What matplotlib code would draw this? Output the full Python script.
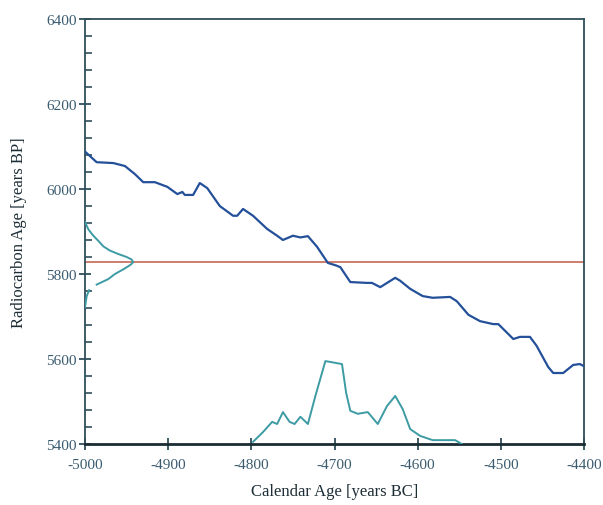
import matplotlib
matplotlib.use("Agg")
import matplotlib.pyplot as plt
import numpy as np

plt.rcParams["axes.unicode_minus"] = False

# Calibration curve (calendar age BC, radiocarbon age BP)
cal_x = [-5000, -4986, -4966, -4952, -4940, -4930, -4916, -4901, -4889, -4883,
         -4880, -4870, -4862, -4853, -4838, -4822, -4817, -4810, -4798, -4781,
         -4769, -4762, -4750, -4741, -4732, -4721, -4708, -4698, -4693, -4681, -4661,
         -4655, -4645, -4627, -4621, -4609, -4594, -4582, -4561, -4553, -4539,
         -4525, -4509, -4503, -4485, -4477, -4465, -4457, -4443, -4437, -4425,
         -4413, -4405, -4401]
cal_y = [6088, 6063, 6061, 6054, 6035, 6016, 6016, 6005, 5988, 5993,
         5986, 5986, 6014, 6002, 5960, 5937, 5937, 5953, 5937, 5906,
         5890, 5880, 5890, 5886, 5889, 5864, 5826, 5820, 5816, 5781, 5779,
         5779, 5769, 5791, 5784, 5765, 5748, 5744, 5746, 5736, 5704,
         5689, 5682, 5682, 5647, 5652, 5652, 5631, 5581, 5567, 5567,
         5586, 5588, 5584]

# Measured radiocarbon age
c14_age = 5828

# Radiocarbon probability distribution (age BP, height in years)
c14_y = [5922, 5905, 5890, 5878, 5865, 5855, 5847, 5840, 5834, 5828, 5822, 5812, 5800, 5788, 5775]
c14_p = [0, 4, 10, 16, 22, 30, 40, 50, 56, 58, 55, 47, 36, 28, 14]
c14_y2 = [5762, 5748, 5735, 5722]
c14_p2 = [5, 2, 1, 0]

# Calendar probability distribution (calendar age BC, height in BP units above 5400)
prob_x = [-4798, -4786, -4775, -4769, -4762, -4754, -4748, -4741, -4732, -4723,
          -4711, -4705, -4691, -4686, -4681, -4672, -4660, -4648, -4637, -4627,
          -4618, -4609, -4597, -4582, -4565, -4555, -4547]
prob_y = [5, 28, 52, 47, 75, 52, 47, 64, 47, 113,
          195, 193, 188, 120, 78, 71, 75, 47, 89, 113,
          82, 35, 19, 9, 9, 9, 0]

xticks = [-5000, -4900, -4800, -4700, -4600, -4500, -4400]
yticks = [5400, 5600, 5800, 6000, 6200, 6400]

fig = plt.figure(figsize=(6.03, 5.06), dpi=100)
ax = fig.add_axes([0.141, 0.1206, 0.8275, 0.8399])

blue = "#24509a"
teal = "#3d9ba3"
red = "#cf7d6c"
frame = "#2f4f5a"

ax.axhline(c14_age, color=red, lw=1.4, zorder=2)
ax.plot(cal_x, cal_y, color=blue, lw=1.6, zorder=3)
ax.plot(np.array(prob_x), 5400 + np.array(prob_y), color=teal, lw=1.4, zorder=3)
ax.plot(-5000 + np.array(c14_p), c14_y, color=teal, lw=1.4, zorder=3)
ax.plot(-5000 + np.array(c14_p2), c14_y2, color=teal, lw=1.4, zorder=3)

ax.set_xlim(-5000, -4400)
ax.set_ylim(5400, 6400)
ax.set_xticks(xticks)
ax.set_yticks(yticks)
ax.set_yticks(np.arange(5400, 6401, 40), minor=True)

for s in ["top", "right", "left"]:
    ax.spines[s].set_color(frame)
    ax.spines[s].set_linewidth(1.3)
ax.spines["bottom"].set_color("#1b2c33")
ax.spines["bottom"].set_linewidth(2.0)

ax.tick_params(axis="both", which="major", direction="inout", length=8, width=1.3,
               colors=frame, labelcolor="#3b5c70", labelsize=11)
ax.tick_params(axis="x", which="major", pad=6)
ax.tick_params(axis="y", which="major", pad=2)
ax.tick_params(axis="y", which="minor", direction="in", length=5, width=1.2, colors=frame)
ax.tick_params(top=False, right=False)
for lab in ax.get_xticklabels() + ax.get_yticklabels():
    lab.set_fontfamily("Liberation Serif")

ax.set_xlabel("Calendar Age [years BC]", fontsize=12, fontfamily="Liberation Serif",
              color="#1e2e36", labelpad=9)
ax.set_ylabel("Radiocarbon Age [years BP]", fontsize=12, fontfamily="Liberation Serif",
              color="#1e2e36", labelpad=14)

fig.savefig("out.png", dpi=100)
